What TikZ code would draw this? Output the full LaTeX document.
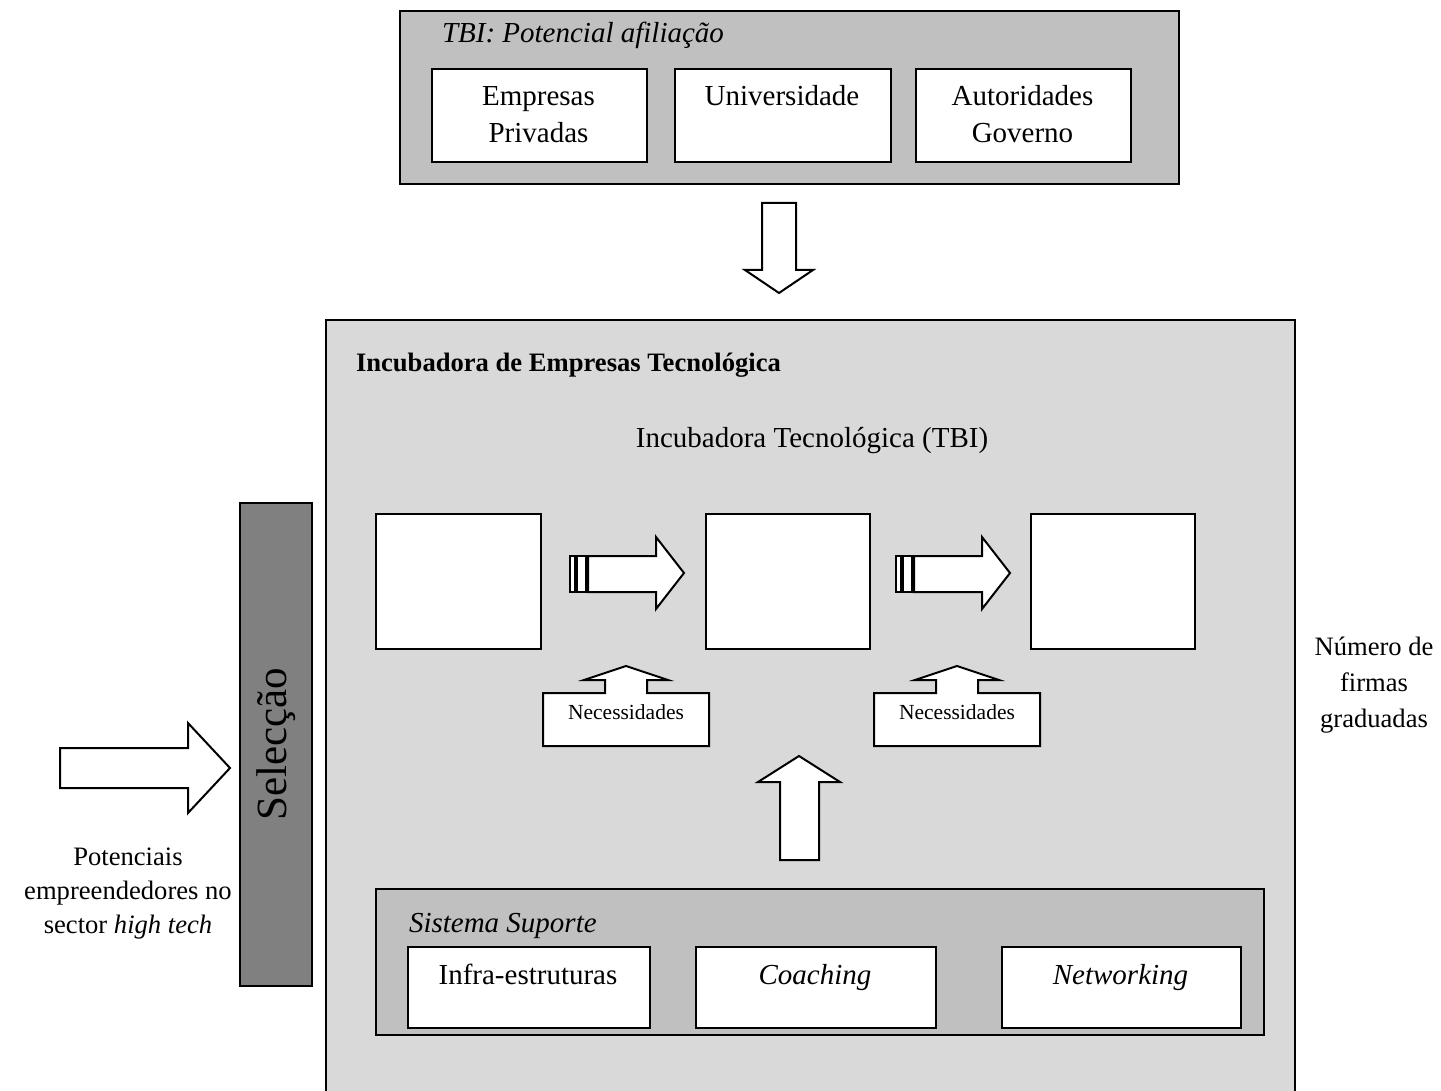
\documentclass[tikz,border=0pt]{standalone}
\usepackage{fontspec}
\setmainfont{Liberation Serif}
\definecolor{panelgray}{HTML}{C0C0C0}
\definecolor{incgray}{HTML}{D9D9D9}
\definecolor{selgray}{HTML}{808080}
\begin{document}
\begin{tikzpicture}[x=1pt,y=-1pt,line width=2pt,line join=miter,
  panel/.style={draw=black,fill=panelgray,inner sep=0pt,anchor=north west},
  card/.style={draw=black,fill=white,inner sep=0pt,anchor=north west},
  blockarrow/.style={draw=black,fill=white,line width=2pt,line join=miter},
  lbl/.style={inner sep=0pt,anchor=base,font=\fontsize{29}{37}\selectfont},
  lblsmall/.style={inner sep=0pt,anchor=base,font=\fontsize{26.6}{34}\selectfont},
  lbltiny/.style={inner sep=0pt,anchor=base,font=\fontsize{21.5}{26}\selectfont}]
\useasboundingbox (0,0) rectangle (1441,1091);
\fill[white] (0,0) rectangle (1441,1091);

% affiliation panel
\node[panel,minimum width=779,minimum height=173] (afil) at (399,10) {};
\node[lbl,anchor=base west,font=\fontsize{29}{37}\selectfont\itshape] (afiltitle) at (441,43) {TBI: Potencial afiliação};
\node[card,minimum width=215,minimum height=93] (emp) at (431,68) {};
\node[card,minimum width=216,minimum height=93] (uni) at (674,68) {};
\node[card,minimum width=215,minimum height=93] (aut) at (915,68) {};
\node[lbl] (emp1) at (538.5,106) {Empresas};
\node[lbl] (emp2) at (538.5,143) {Privadas};
\node[lbl] (uni1) at (782,106) {Universidade};
\node[lbl] (aut1) at (1022.5,106) {Autoridades};
\node[lbl] (aut2) at (1022.5,143) {Governo};

% arrow from the affiliation panel into the incubator
\draw[blockarrow] (762,203) -- (796,203) -- (796,270) -- (813,270) -- (779,293)
  -- (745,270) -- (762,270) -- cycle;

% incubator
\node[draw=black,fill=incgray,inner sep=0pt,anchor=north west,
  minimum width=969,minimum height=800] (inc) at (325,319) {};
\node[inner sep=0pt,anchor=base west,font=\fontsize{26.6}{34}\selectfont\bfseries]
  (inctitle) at (355,371) {Incubadora de Empresas Tecnológica};
\node[lbl] (tbi) at (812,447) {Incubadora Tecnológica (TBI)};

% three stages
\node[card,minimum width=165,minimum height=135] (s1) at (375,513) {};
\node[card,minimum width=164,minimum height=135] (s2) at (705,513) {};
\node[card,minimum width=164,minimum height=135] (s3) at (1030,513) {};

% striped arrows between stages
\foreach \dx in {0,326}{
  \begin{scope}[xshift=\dx]
    \draw[blockarrow] (570,556) rectangle (575,592);
    \draw[blockarrow] (577,556) rectangle (586,592);
    \draw[blockarrow] (588,556) -- (656,556) -- (656,537) -- (684,573)
      -- (656,609) -- (656,592) -- (588,592) -- cycle;
  \end{scope}
}

% needs callouts
\foreach \dx/\nm in {0/needA,331/needB}{
  \begin{scope}[xshift=\dx]
    \draw[blockarrow] (543,746) -- (543,693) -- (605,693) -- (605,680)
      -- (584,680) -- (626,666) -- (668,680) -- (647,680) -- (647,693)
      -- (709,693) -- (709,746) -- cycle;
    \node[lbltiny] (\nm) at (626,719) {Necessidades};
  \end{scope}
}

% support arrow
\draw[blockarrow] (780,860) -- (780,782) -- (758,782) -- (799,756) -- (840,782)
  -- (819,782) -- (819,860) -- cycle;

% support system
\node[panel,minimum width=888,minimum height=146] (sup) at (375,888) {};
\node[inner sep=0pt,anchor=base west,font=\fontsize{29}{37}\selectfont\itshape]
  (suptitle) at (408,932) {Sistema Suporte};
\node[card,minimum width=242,minimum height=81] (infra) at (407,946) {};
\node[card,minimum width=240,minimum height=81] (coach) at (695,946) {};
\node[card,minimum width=239,minimum height=81] (net) at (1001,946) {};
\node[lbl] (infratxt) at (528,984) {Infra-estruturas};
\node[lbl,font=\fontsize{29}{37}\selectfont\itshape] (coachtxt) at (815,984) {Coaching};
\node[lbl,font=\fontsize{29}{37}\selectfont\itshape] (nettxt) at (1120.5,984) {Networking};

% selection bar
\node[draw=black,fill=selgray,inner sep=0pt,anchor=north west,
  minimum width=72,minimum height=483] (sel) at (239,502) {};
\node[inner sep=0pt,rotate=90,font=\fontsize{43}{50}\selectfont] (seltxt)
  at (sel.center) {Selecção};

% entry arrow
\draw[blockarrow] (60,748) -- (188,748) -- (188,723) -- (230,768) -- (188,813)
  -- (188,788) -- (60,788) -- cycle;

% side labels
\node[lblsmall] (pot1) at (128,865) {Potenciais};
\node[lblsmall] (pot2) at (128,899) {empreendedores no};
\node[lblsmall] (pot3) at (128,933) {sector \textit{high tech}};
\node[lblsmall] (num1) at (1374,655) {Número de};
\node[lblsmall] (num2) at (1374,691) {firmas};
\node[lblsmall] (num3) at (1374,727) {graduadas};
\end{tikzpicture}
\end{document}
